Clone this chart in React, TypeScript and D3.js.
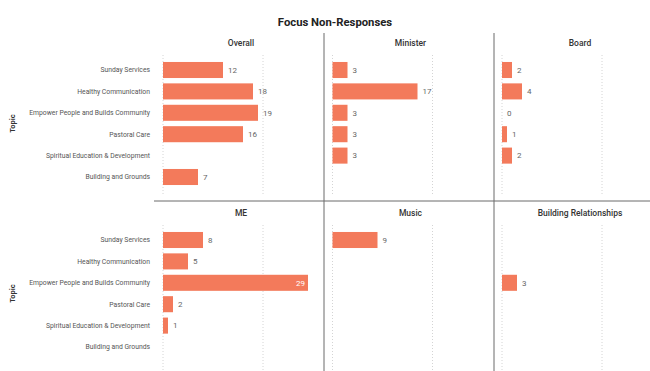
import React from 'react';
import * as d3 from 'd3';

const topics = [
  'Sunday Services',
  'Healthy Communication',
  'Empower People and Builds Community',
  'Pastoral Care',
  'Spiritual Education & Development',
  'Building and Grounds',
];

const panelTitles = ['Overall', 'Minister', 'Board', 'ME', 'Music', 'Building Relationships'];

// null = no bar / no label
const overall = [12, 18, 19, 16, null, 7];
const minister = [3, 17, 3, 3, 3, null];
const board = [2, 4, 0, 1, 2, null];
const me = [8, 5, 29, 2, 1, null];
const music = [9, null, null, null, null, null];
const buildingRel = [null, null, 3, null, null, null];

const panelValues = [overall, minister, board, me, music, buildingRel];
const gridTicks = [0, 20];

const W = 650;
const H = 371;
const barColor = '#F37A5B';
const font = 'Roboto, "DejaVu Sans", sans-serif';

const App: React.FC = () => {
  // column origins (value 0) and row bands
  const colX = d3.scalePoint<number>().domain([0, 1, 2]).range([163, 502]);
  const x = d3.scaleLinear().domain([0, 40]).range([0, 200]);
  const rowRanges: [number, number][] = [
    [59.3, 187.7],
    [229.3, 357.7],
  ];
  const gridY: [number, number][] = [
    [55, 195],
    [225, 371],
  ];
  const titleY = [46, 216];

  return (
    <svg
      width={W}
      height={H}
      style={{ position: 'absolute', left: 0, top: 0, background: '#fff', opacity: 0.999 }}
    >
      <text x={335} y={26} textAnchor="middle" fontFamily={font} fontWeight={700} fontSize={11.3} fill="#222">
        Focus Non-Responses
      </text>

      {/* dividers */}
      <line x1={154} x2={W} y1={201} y2={201} stroke="#6b6b6b" strokeWidth={1} />
      <line x1={324} x2={324} y1={33} y2={H} stroke="#6b6b6b" strokeWidth={1} />
      <line x1={494} x2={494} y1={33} y2={H} stroke="#6b6b6b" strokeWidth={1} />

      {[0, 1].map((row) => {
        const y = d3
          .scaleBand<string>()
          .domain(topics)
          .range(rowRanges[row])
          .paddingInner(0.25)
          .paddingOuter(0.125);
        return (
          <g key={row}>
            <text
              transform={`translate(15,${(rowRanges[row][0] + rowRanges[row][1]) / 2}) rotate(-90)`}
              textAnchor="middle"
              fontFamily={font}
              fontWeight={700}
              fontSize={7.5}
              fill="#333"
            >
              Topic
            </text>
            {topics.map((t) => (
              <text
                key={t}
                x={150}
                y={(y(t) || 0) + y.bandwidth() / 2}
                dy="0.35em"
                textAnchor="end"
                fontFamily={font}
                fontSize={6.8}
                fill="#555"
              >
                {t}
              </text>
            ))}
            {[0, 1, 2].map((col) => {
              const idx = row * 3 + col;
              const x0 = colX(col) || 0;
              const vals = panelValues[idx];
              return (
                <g key={col}>
                  <text
                    x={x0 + 78}
                    y={titleY[row]}
                    textAnchor="middle"
                    fontFamily={font}
                    fontWeight={500}
                    fontSize={8.5}
                    fill="#333"
                  >
                    {panelTitles[idx]}
                  </text>
                  {gridTicks.map((tk) => (
                    <line
                      key={tk}
                      x1={x0 + x(tk)}
                      x2={x0 + x(tk)}
                      y1={gridY[row][0]}
                      y2={gridY[row][1]}
                      stroke="#d4d4d4"
                      strokeWidth={1}
                      strokeDasharray="1,2"
                    />
                  ))}
                  {vals.map((v, i) => {
                    if (v === null) return null;
                    const yy = y(topics[i]) || 0;
                    const w = x(v);
                    const inside = x0 + w + 16 > x0 + 160;
                    return (
                      <g key={i}>
                        {v > 0 && (
                          <rect x={x0} y={yy} width={w} height={y.bandwidth()} fill={barColor} />
                        )}
                        <text
                          x={inside ? x0 + w - 3 : x0 + w + 5}
                          y={yy + y.bandwidth() / 2}
                          dy="0.35em"
                          textAnchor={inside ? 'end' : 'start'}
                          fontFamily={font}
                          fontSize={8}
                          fill={inside ? '#fff' : '#666'}
                        >
                          {v}
                        </text>
                      </g>
                    );
                  })}
                </g>
              );
            })}
          </g>
        );
      })}
    </svg>
  );
};

export default App;
